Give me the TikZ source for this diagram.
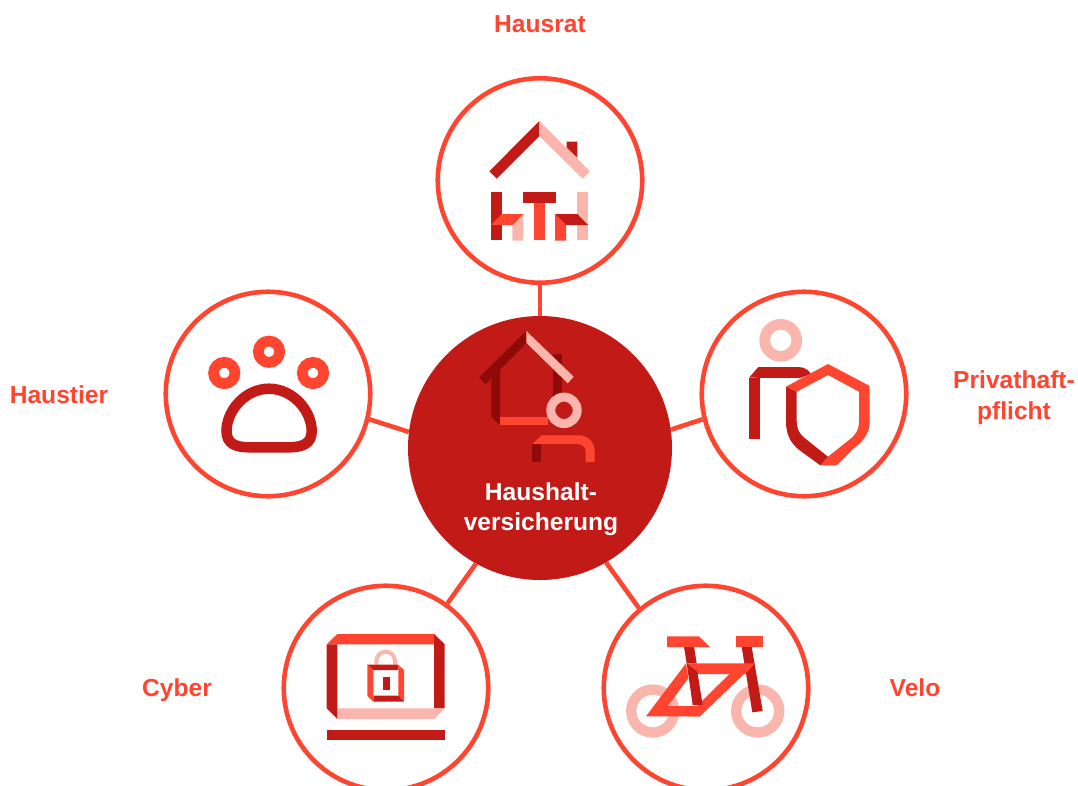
\documentclass[tikz,border=0pt]{standalone}
\usepackage{fontspec}
\setmainfont{Liberation Sans}
\definecolor{lred}{HTML}{FF4530}
\definecolor{dred}{HTML}{C21B17}
\definecolor{pinkr}{HTML}{FAB6AC}
\definecolor{vdred}{HTML}{8F0A08}
\tikzset{
  sat/.style={circle,draw=lred,line width=4.6pt,fill=white,minimum size=204.5pt,inner sep=0pt},
  hubnode/.style={circle,fill=dred,minimum size=264pt,inner sep=0pt},
  link/.style={draw=lred,line width=4.6pt},
  lbl/.style={text=lred,font=\fontsize{24.6}{31}\selectfont\bfseries,align=center},
  hublbl/.style={text=white,font=\fontsize{24.6}{30}\selectfont\bfseries,align=center},
  L/.style={fill=lred},
  D/.style={fill=dred},
  P/.style={fill=pinkr},
  V/.style={fill=vdred}
}
\begin{document}
\begin{tikzpicture}[x=1pt,y=-1pt]
\clip (0,0) rectangle (1078,785);
\fill[white] (0,0) rectangle (1078,785);
% nodes
\node[hubnode] (hub) at (540,448) {};
\node[sat] (top) at (540,180.5) {};
\node[sat] (left) at (268,394) {};
\node[sat] (right) at (804,394) {};
\node[sat] (bl) at (386,688) {};
\node[sat] (br) at (706,688) {};
% connectors
\draw[link] (hub.90) -- (top.-90);
\draw[link] (hub.173) -- (left.-14.3);
\draw[link] (hub.8) -- (right.194.7);
\draw[link] (hub.241.3) -- (bl.54);
\draw[link] (hub.-60.5) -- (br.130);
% labels
\node[lbl] (lhausrat) at (540,24) {Hausrat};
\node[lbl] (lpriv) at (1014,398) {Privathaft-\\pflicht};
\node[lbl] (lhaustier) at (59,395) {Haustier};
\node[lbl] (lcyber) at (177,690) {Cyber};
\node[lbl] (lvelo) at (915,688) {Velo};
\node[hublbl] (lhub) at (541,509) {Haushalt-\\versicherung};
% Hausrat icon
\fill[D] (566.7,141.7) -- (577.3,141.7) -- (577.3,157.7) -- (566.7,147.7) -- cycle;
\fill[D] (539.3,121) -- (539.3,136) -- (496.7,178.7) -- (489.3,171.3) -- cycle;
\fill[P] (539.3,121) -- (590,171.3) -- (582.7,178.7) -- (539.3,136) -- cycle;
\fill[D] (523.3,192.3) rectangle (555.7,203);
\fill[L] (534,203) rectangle (545,240);
\fill[D] (491,192) rectangle (502,240);
\fill[P] (512.3,225) -- (523.3,214) -- (523.3,240.5) -- (512.3,240.5) -- cycle;
\fill[L] (491,225) -- (501.7,214) -- (523.3,214) -- (512.7,225) -- cycle;
\fill[P] (577.3,192) rectangle (588,240);
\fill[L] (555,214) -- (566,225) -- (566,240.5) -- (555,240.5) -- cycle;
\fill[D] (555,214) -- (577.3,214) -- (588,225) -- (566,225) -- cycle;
% Hub icon
\fill[V] (553.3,354) rectangle (562,397);
\fill[V] (491.3,370) -- (500,361) -- (500,425.3) -- (491.3,416.7) -- cycle;
\fill[V] (526.3,331) -- (526.3,343.3) -- (485.7,384) -- (479,377.3) -- cycle;
\fill[P] (526.3,331) -- (573.7,376.7) -- (567.7,383.3) -- (526.3,342.7) -- cycle;
\fill[L] (500,416.7) rectangle (548,425.3);
\draw[pinkr,line width=9pt] (564,410.3) circle (13.2);
\fill[L] (532.3,444) -- (541.7,435.3) -- (578.3,435.3) .. controls (588,435.3) and (594.7,442) .. (594.7,451.7) -- (594.7,462) -- (585.7,462) -- (585.7,451.7) .. controls (585.7,447) and (582,444) .. (577,444) -- cycle;
\fill[V] (532.3,444) rectangle (541.3,462);
% Privathaft icon
\draw[pinkr,line width=10.7pt] (780.7,340.3) circle (16);
\fill[D] (749,377.7) rectangle (760,438.7);
\fill[D] (749,377.7) -- (758.3,367) -- (798.3,367) .. controls (804,367) and (809,370) .. (811,374) -- (800,378) -- cycle;
\fill[L] (786,386.7) -- (828,364) -- (869.7,386) -- (869.7,421.7) .. controls (869.7,435) and (861,443) .. (853,449) -- (836.7,465.3) -- (820.3,465.3) -- (828,456.7) -- (849,440) .. controls (853,437) and (859,432) .. (859,421.7) -- (859,391.7) -- (828,375) -- (796.7,391.7) -- cycle;
\fill[D] (786,386.7) -- (796.7,391.7) -- (796.7,421.7) .. controls (796.7,432) and (803,437) .. (807,440) -- (828,456.7) -- (820.3,465.3) -- (802,452) .. controls (793,446) and (786,437) .. (786,421.7) -- cycle;
% Velo icon
\draw[pinkr,line width=10.3pt] (652.7,711) circle (21.5);
\draw[pinkr,line width=10.3pt] (757.7,711) circle (21.5);
\fill[D] (684,647) -- (694,647) -- (696.7,663.3) -- (686.7,663.3) -- cycle;
\fill[D] (741.7,647) -- (751.7,647) -- (762.7,711) -- (752.3,712.3) -- cycle;
\fill[L] (667,636.3) -- (699,636.3) -- (710,647) -- (667,647) -- cycle;
\fill[L] (736,636) rectangle (763,647);
\fill[L] (686,663.3) -- (646,716.3) -- (700,716.3) -- (706,706) -- (667.7,706) -- (688.3,678.3) -- cycle;
\fill[L] (686,663.3) -- (755,663.3) -- (745,674) -- (697.3,674) -- cycle;
\fill[L] (755,663.3) -- (700,716.3) -- (686.7,716.3) -- (729.3,674) -- (745,674) -- cycle;
\fill[D] (686.7,663.3) -- (697.3,671.7) -- (702.7,705) -- (692.7,705) -- cycle;
% Cyber icon
\fill[L] (326.7,644.3) -- (337.3,634) -- (434,634) -- (434,644.3) -- cycle;
\fill[D] (434,634) -- (444.7,644.3) -- (444.7,708.3) -- (434,708.3) -- cycle;
\fill[P] (337.3,708.3) -- (444.7,708.3) -- (434,719) -- (337.3,719) -- cycle;
\fill[D] (326.7,644.3) -- (337.3,644.3) -- (337.3,719) -- (326.7,708.3) -- cycle;
\fill[D] (326.7,730) rectangle (444.7,740.3);
\draw[pinkr,line width=4pt] (376.4,664.7) -- (376.4,661) arc[start angle=180,end angle=360,radius=9.3] -- (395,664.7);
\fill[D] (367.3,664.7) -- (398.3,664.7) -- (398.3,670) -- (373.3,670) -- cycle;
\fill[L] (398.3,664.7) -- (404,670) -- (404,701.7) -- (398.3,695.7) -- cycle;
\fill[D] (373.3,695.7) -- (398.3,695.7) -- (404,701.7) -- (373.3,701.7) -- cycle;
\fill[L] (367.3,664.7) -- (373.3,670) -- (373.3,701.7) -- (367.3,695.7) -- cycle;
\fill[D] (383,676.7) rectangle (390,690);
% Haustier icon
\draw[lred,line width=10.7pt] (224.3,373) circle (10.7);
\draw[lred,line width=10.7pt] (269,351.7) circle (10.7);
\draw[lred,line width=10.7pt] (313,373) circle (10.7);
\draw[dred,line width=10.5pt] (269,388.7) .. controls (245,388.7) and (226.5,411) .. (226.5,431) .. controls (226.5,444) and (236,447) .. (248,447.3) -- (290,447.3) .. controls (302,447) and (311.7,444) .. (311.7,431) .. controls (311.7,411) and (293,388.7) .. (269,388.7) -- cycle;
\end{tikzpicture}
\end{document}
